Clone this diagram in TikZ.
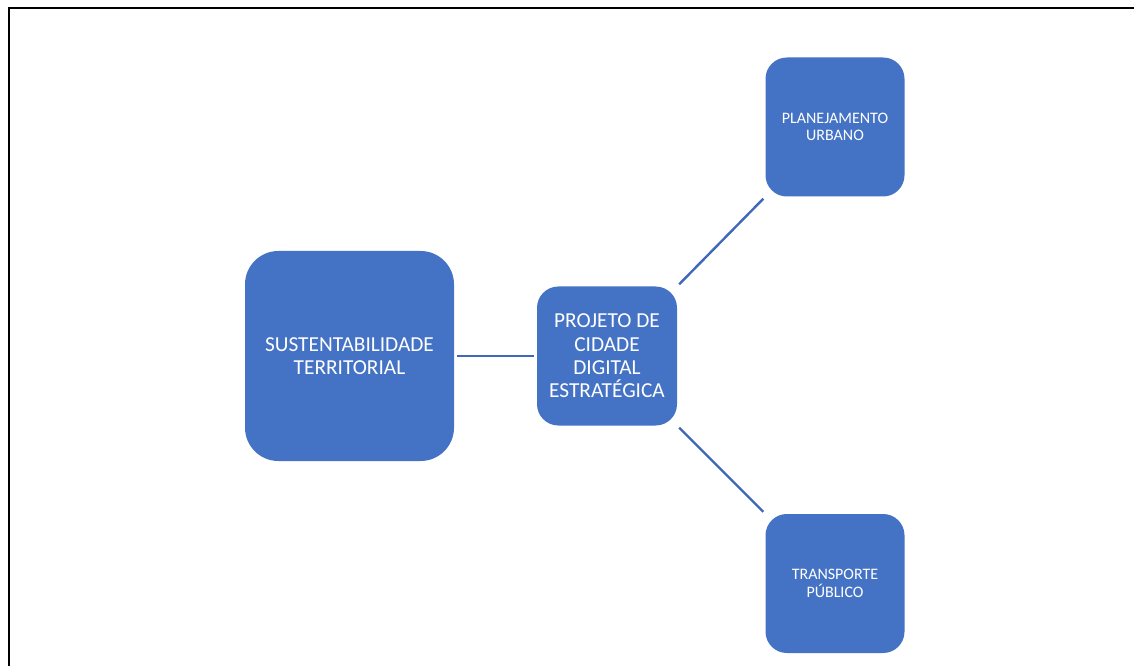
\documentclass[tikz,border=0pt]{standalone}
\usepackage{fontspec}
\setmainfont{Carlito}
\definecolor{boxblue}{HTML}{4472C4}
\definecolor{linkblue}{HTML}{4068B8}
\tikzset{
  x=0.75pt, y=-0.75pt,
  box/.style={fill=boxblue, draw=none, inner sep=0pt, align=center, text=white},
  bigbox/.style={box, minimum width=209*0.75pt, minimum height=210*0.75pt, rounded corners=25pt,
    font=\fontsize{16}{17.5}\selectfont},
  midbox/.style={box, minimum width=140*0.75pt, minimum height=139*0.75pt, rounded corners=16pt,
    font=\fontsize{16}{17.5}\selectfont},
  smallbox/.style={box, minimum width=139*0.75pt, minimum height=139*0.75pt, rounded corners=16pt,
    font=\fontsize{12}{13}\selectfont},
  link/.style={draw=linkblue, line width=1.8pt, shorten <=2pt, shorten >=2pt},
  frame/.style={draw=black, line width=1.5pt}
}
\begin{document}
\begin{tikzpicture}
  \useasboundingbox (0,0) rectangle (1134,666);
  % open frame along the left and top edges
  \draw[frame] (8.5,666) -- (8.5,8.5) -- (1134,8.5);

  \node[bigbox]   (sust) at (349.5,356)   {SUSTENTABILIDADE\\TERRITORIAL};
  \node[midbox]   (proj) at (607,356)     {PROJETO DE\\CIDADE\\DIGITAL\\ESTRATÉGICA};
  \node[smallbox] (plan) at (835,127)     {PLANEJAMENTO\\URBANO};
  \node[smallbox] (tran) at (835,583.5)   {TRANSPORTE\\PÚBLICO};

  \draw[link] (sust.east) -- (proj.west);
  \draw[link] (proj.north east) -- (plan.south west);
  \draw[link] (proj.south east) -- (tran.north west);
\end{tikzpicture}
\end{document}
